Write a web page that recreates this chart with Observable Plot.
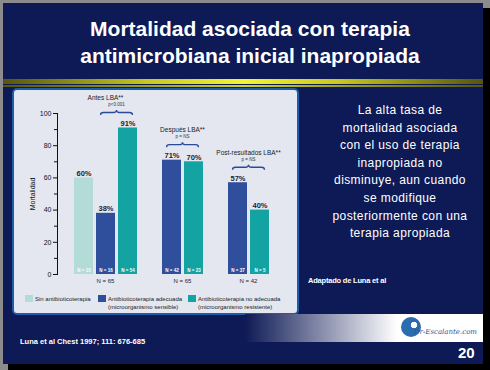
<!DOCTYPE html>
<html><head><meta charset="utf-8">
<script src="https://cdn.jsdelivr.net/npm/d3@7"></script>
<script src="https://cdn.jsdelivr.net/npm/@observablehq/plot@0.6"></script>
<style>
html,body{margin:0;padding:0;}
body{background:#8c8c8c;width:490px;height:370px;overflow:hidden;font-family:Arial,"Liberation Sans",sans-serif;}
#page{position:relative;width:490px;height:370px;}
.abs{position:absolute;}
#shadow{left:8px;top:8px;width:482px;height:362px;background:#000;}
#slide{left:3px;top:3px;width:480px;height:361px;background:#0e1a55;}
#title{left:40px;top:15px;width:420px;text-align:center;color:#fff;font-weight:bold;font-size:21px;line-height:27px;}
#stripe1{left:3px;top:78.5px;width:480px;height:5px;background:linear-gradient(to right,#55550e,#c8c81e 30%,#f4f436 50%,#c8c81e 70%,#55550e);}
#stripe2{left:3px;top:85px;width:480px;height:2px;background:linear-gradient(to right,#55550e,#d0d026 50%,#55550e);}
#panel{left:12px;top:88px;width:287px;height:227px;box-sizing:border-box;border:2.5px solid #1d5ca6;border-radius:5px;background:#e4e7ef;}
#chart{left:12px;top:88px;}
#legend{left:25px;top:295px;width:280px;font-size:6px;color:#222;}
.li{position:absolute;top:0;white-space:nowrap;line-height:8px;}
.sw{position:absolute;left:0;top:0;width:8px;height:7px;}
.lt{position:absolute;left:10px;top:0;}
#side{left:300px;top:102px;width:200px;text-align:center;color:#fff;font-size:12px;line-height:17.6px;letter-spacing:0.4px;}
#adapt{left:308px;top:276px;color:#fff;font-weight:bold;font-size:7.5px;letter-spacing:-0.2px;}
#foot{left:245px;top:314px;width:238px;height:28px;background:linear-gradient(to right,#0e1a55 0%,#ffffff 64%,#ffffff 100%);}
#logo{left:401px;top:317px;width:20px;height:20px;border-radius:50%;background:radial-gradient(circle at 65% 40%,#ffffff 0 18%,#2a6cb0 20% 100%);}
#logotxt{left:414px;top:328px;color:#2a5a9a;font-style:italic;font-family:"DejaVu Serif",serif;font-size:7px;}
#cite{left:20px;top:337px;color:#fff;font-weight:bold;font-size:7.5px;}
#pnum{left:458px;top:344px;color:#fff;font-weight:bold;font-size:15px;}
</style>
</head><body>
<div id="page">
  <div id="shadow" class="abs"></div>
  <div id="slide" class="abs"></div>
  <div id="title" class="abs">Mortalidad asociada con terapia<br>antimicrobiana inicial inapropiada</div>
  <div id="stripe1" class="abs"></div>
  <div id="stripe2" class="abs"></div>
  <div id="panel" class="abs"></div>
  <div id="chart" class="abs"></div>
  <div id="legend" class="abs"></div>
  <div id="side" class="abs">La alta tasa de<br>mortalidad asociada<br>con el uso de terapia<br>inapropiada no<br>disminuye, aun cuando<br>se modifique<br>posteriormente con una<br>terapia apropiada</div>
  <div id="adapt" class="abs">Adaptado de Luna et al</div>
  <div id="foot" class="abs"></div>
  <div id="logo" class="abs"></div>
  <div id="logotxt" class="abs">Dr-Escalante.com</div>
  <div id="cite" class="abs">Luna et al Chest 1997; 111: 676-685</div>
  <div id="pnum" class="abs">20</div>
</div>
<script>
// ---- data ----
const series = ["Sin antibioticoterapia", "Antibioticoterapia adecuada", "Antibioticoterapia no adecuada"];
const seriesSub = ["", "(microorganismo sensible)", "(microorganismo resistente)"];
const seriesColors = ["#b3dcd9", "#2f4f9c", "#14a3a3"];
const phases = ["Antes LBA**", "Después LBA**", "Post-resultados LBA**"];
const pValues = ["p<0.001", "p = NS", "p = NS"];
const phaseN = ["N = 65", "N = 65", "N = 42"];
const barPhase = [0, 0, 0, 1, 1, 2, 2];
const barSeries = [0, 1, 2, 1, 2, 1, 2];
const mortality = [60, 38, 91, 71, 70, 57, 40];
const barN = ["N = 15", "N = 16", "N = 54", "N = 42", "N = 23", "N = 37", "N = 5"];
const yTicks = [0, 20, 40, 60, 80, 100];
const yMinorTicks = [10, 30, 50, 70, 90];

// ---- build table ----
const bars = mortality.map((v, i) => ({
  key: phases[barPhase[i]] + "|" + series[barSeries[i]],
  phase: barPhase[i],
  series: series[barSeries[i]],
  value: v,
  n: barN[i]
}));
const slotDomain = [];
bars.forEach((b, i) => {
  if (i > 0 && b.phase !== bars[i - 1].phase) slotDomain.push("gap" + b.phase);
  slotDomain.push(b.key);
});

const chart = Plot.plot({
  width: 286, height: 205,
  marginLeft: 45, marginRight: 26.5, marginTop: 25, marginBottom: 19,
  style: {background: "transparent", fontFamily: "Arial, 'Liberation Sans', sans-serif", fontSize: "7px", color: "#111"},
  x: {type: "band", domain: slotDomain, paddingInner: 0.15, paddingOuter: 0.075, insetLeft: 14, axis: null},
  y: {domain: [0, 100]},
  color: {domain: series, range: seriesColors},
  marks: [
    Plot.barY(bars, {x: "key", y: "value", fill: "series"}),
    Plot.frame({anchor: "left", stroke: "#111", strokeWidth: 1}),
    Plot.axisY({ticks: yTicks, tickSize: 4, tickPadding: 2, fontSize: 7, stroke: "#111", label: "Mortalidad", labelAnchor: "center", labelOffset: 27, labelArrow: "none"}),
    Plot.axisY({ticks: yMinorTicks, tickSize: 3, text: null, label: null, stroke: "#111"}),
    Plot.text(bars, {x: "key", y: "value", text: d => d.value + "%", lineAnchor: "bottom", dy: -2, fontSize: 7.5, fontWeight: "bold", fill: "#1b1f3a"}),
    Plot.text(bars, {x: "key", y: 0, text: "n", dy: -4, fill: "#fff", fontSize: 4.5, fontWeight: "bold"})
  ]
});
document.getElementById("chart").appendChild(chart);

// ---- group annotations via the plot's own scales ----
const xs = chart.scale("x"), ys = chart.scale("y");
const bw = xs.bandwidth;
const svg = d3.select(chart);
const ann = svg.append("g").attr("font-family", "Arial, 'Liberation Sans', sans-serif").attr("text-anchor", "middle");
phases.forEach((ph, p) => {
  const gb = bars.filter(b => b.phase === p);
  const centers = gb.map(b => xs.apply(b.key) + bw / 2);
  const gc = (d3.min(centers) + d3.max(centers)) / 2;
  const cmp = gb.filter(b => b.series !== series[0]).map(b => xs.apply(b.key) + bw / 2);
  const pc = (d3.min(cmp) + d3.max(cmp)) / 2;
  const top = ys.apply(d3.max(gb, b => b.value));
  const y0 = ys.apply(0);
  // header
  ann.append("text").attr("x", gc).attr("y", top - 30).attr("dy", "0.35em")
    .attr("font-size", 6.5).attr("fill", "#1a1a2a").text(ph);
  ann.append("text").attr("x", pc).attr("y", top - 23).attr("dy", "0.35em")
    .attr("font-size", 4.5).attr("fill", "#333").text(pValues[p]);
  // brace
  const x1 = d3.min(cmp) - 5, x2 = d3.max(cmp) + 5, cy = top - 15, h = 5, r = 3;
  const path = `M${x1},${cy + h / 2} Q${x1},${cy} ${x1 + r},${cy} L${pc - r},${cy} Q${pc},${cy} ${pc},${cy - h / 2} Q${pc},${cy} ${pc + r},${cy} L${x2 - r},${cy} Q${x2},${cy} ${x2},${cy + h / 2}`;
  ann.append("path").attr("d", path).attr("fill", "none").attr("stroke", "#2a4a9a").attr("stroke-width", 1.3);
  // group N
  ann.append("text").attr("x", gc).attr("y", y0 + 7).attr("dy", "0.35em")
    .attr("font-size", 6).attr("fill", "#1a1a3a").text(phaseN[p]);
});

// ---- legend ----
const legendX = [0, 73, 163];
const lg = document.getElementById("legend");
series.forEach((s, i) => {
  const item = document.createElement("div");
  item.className = "li";
  item.style.left = legendX[i] + "px";
  item.innerHTML = `<div class="sw" style="background:${seriesColors[i]}"></div><div class="lt">${s}${seriesSub[i] ? "<br>" + seriesSub[i] : ""}</div>`;
  lg.appendChild(item);
});
</script>
</body></html>
